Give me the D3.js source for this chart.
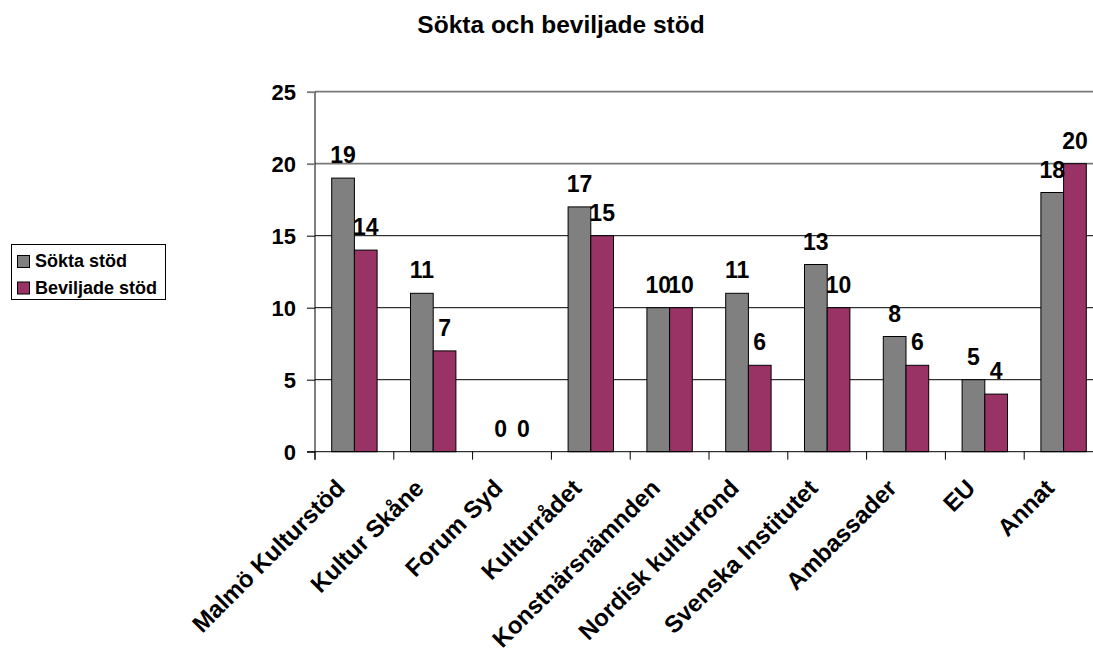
<!DOCTYPE html>
<html><head><meta charset="utf-8">
<script src="https://cdn.jsdelivr.net/npm/d3@7"></script>
<style>body{margin:0;background:#fff;}svg{display:block;font-family:"Liberation Sans",Arial,sans-serif;font-weight:bold;}</style>
</head><body>
<svg id="chart" width="1093" height="652"></svg>
<script>
const categories = ["Malmö Kulturstöd","Kultur Skåne","Forum Syd","Kulturrådet","Konstnärsnämnden","Nordisk kulturfond","Svenska Institutet","Ambassader","EU","Annat"];
const seriesNames = ["Sökta stöd","Beviljade stöd"];
const soktaStod = [19,11,0,17,10,11,13,8,5,18];
const beviljadeStod = [14,7,0,15,10,6,10,6,4,20];
const yTicks = [0,5,10,15,20,25];
const colors = ["#808080","#993366"];
const chartTitle = "Sökta och beviljade stöd";

const svg = d3.select("#chart");
const plotLeft = 315, plotTop = 91.7, plotBottom = 451.7, bandW = 78.8;
const x0 = d3.scaleBand().domain(categories).range([plotLeft, plotLeft + bandW*categories.length]).padding(0);
const x1 = d3.scaleBand().domain(seriesNames).range([16.7, bandW-16.7]).padding(0);
const y = d3.scaleLinear().domain([0,25]).range([plotBottom, plotTop]);

svg.append("text").attr("x",561).attr("y",33).attr("text-anchor","middle").attr("font-size",24.5).text(chartTitle);

// gridlines
const gridStroke = d => d >= 20 ? "#7a7a7a" : "#000";
const gridWidth = d => d >= 20 ? 1.8 : 1;
svg.append("g").selectAll("line").data(yTicks.filter(d=>d>0)).join("line")
  .attr("x1",plotLeft).attr("x2",1093).attr("y1",d=>y(d)).attr("y2",d=>y(d))
  .attr("stroke",gridStroke).attr("stroke-width",gridWidth);

// y axis
const yAxis = d3.axisLeft(y).tickValues(yTicks).tickSize(8).tickPadding(11).tickFormat(d3.format("d"));
const ga = svg.append("g").attr("transform",`translate(${plotLeft},0)`).call(yAxis);
ga.select(".domain").attr("d",`M0,${plotTop}V${plotBottom+8}`).attr("stroke","#000");
ga.selectAll("text").attr("font-size",22).attr("font-family","Liberation Sans, Arial").attr("font-weight","bold").attr("fill","#000").attr("dy","0.36em");
ga.selectAll(".tick line").attr("stroke",gridStroke).attr("stroke-width",gridWidth);

// bars
const data = categories.map((c,i)=>({c, vals:[soktaStod[i], beviljadeStod[i]]}));
const groups = svg.append("g").selectAll("g").data(data).join("g").attr("transform",d=>`translate(${x0(d.c)},0)`);
groups.selectAll("rect").data(d=>d.vals.map((v,j)=>({v,s:seriesNames[j],j}))).join("rect")
  .attr("x",d=>x1(d.s)).attr("width",x1.bandwidth()).attr("y",d=>y(d.v)).attr("height",d=>plotBottom-y(d.v))
  .attr("fill",d=>colors[d.j]).attr("stroke","#000").attr("stroke-width",1);
groups.selectAll("text").data(d=>d.vals.map((v,j)=>({v,s:seriesNames[j],j}))).join("text")
  .attr("x",d=>x1(d.s)+x1.bandwidth()/2).attr("y",d=>y(d.v)-15).attr("text-anchor","middle").attr("font-size",23).text(d=>d.v);

// x axis
const xAxis = d3.axisBottom(x0).tickSize(0).tickFormat("");
const gx = svg.append("g").attr("transform",`translate(0,${plotBottom})`).call(xAxis);
gx.select(".domain").attr("d",`M${plotLeft-8},0H1093`).attr("stroke","#000");
gx.selectAll(".tick").remove();
const edges = categories.map(c=>x0(c));
svg.append("g").selectAll("line").data(edges).join("line")
  .attr("x1",d=>d).attr("x2",d=>d).attr("y1",plotBottom).attr("y2",plotBottom+8).attr("stroke","#000");
svg.append("g").selectAll("text").data(categories).join("text")
  .attr("text-anchor","end").attr("font-size",24)
  .attr("transform",d=>`translate(${x0(d)+x0.bandwidth()/2-8},${plotBottom+38}) rotate(-45)`).text(d=>d);

// legend
const lg = svg.append("g");
lg.append("rect").attr("x",11.5).attr("y",244.5).attr("width",154).attr("height",55).attr("fill","#fff").attr("stroke","#000");
seriesNames.forEach((s,i)=>{
  lg.append("rect").attr("x",17.5).attr("y",255.5+i*26.5).attr("width",12).attr("height",12).attr("fill",colors[i]).attr("stroke","#000");
  lg.append("text").attr("x",35).attr("y",267+i*26.5).attr("font-size",18).text(s);
});
</script>
</body></html>
